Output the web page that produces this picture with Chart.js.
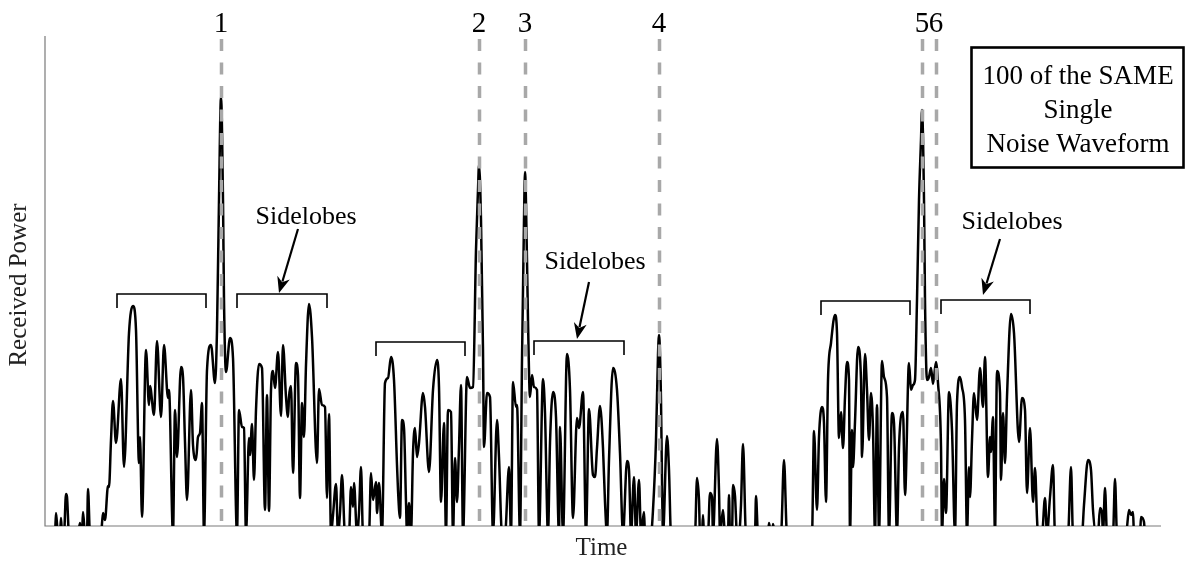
<!DOCTYPE html>
<html>
<head>
<meta charset="utf-8">
<script src="https://cdn.jsdelivr.net/npm/chart.js@4/dist/chart.umd.min.js"></script>
<style>
  html, body { margin: 0; padding: 0; background: #fff; }
  #wrap { width: 1186px; height: 562px; position: relative; }
</style>
</head>
<body>
<div id="wrap"><canvas id="c"></canvas></div>
<script>
// Received power of one noise waveform over time (arbitrary units; values below 0 sit under the axis floor)
const times = [5,10,11,13,15,16,17,19,21,22,24,33,35,36,37,38,40,42,43,45,56,58,60,63,64,66,68,71,76,79,84,88,91,94,95,97,101,104,105,109,112,116,119,123,124,128,130,132,136,138,140,142,146,148,151,153,155,157,159,162,166,170,172,174,176,178,179,181,185,188,192,194,197,199,201,204,205,207,209,211,214,217,220,222,224,226,228,230,233,236,238,241,243,244,246,248,251,253,255,257,259,261,264,267,272,274,277,280,282,284,286,288,291,293,295,297,300,304,306,308,309,312,314,316,318,324,326,328,331,332,334,337,340,343,346,349,352,353,355,357,359,361,362,364,366,368,370,372,374,378,380,384,388,392,394,396,399,401,403,406,408,410,412,414,416,418,422,425,428,431,433,434,436,438,439,442,445,448,452,454,457,460,464,466,468,471,472,475,477,479,480,482,483,485,487,489,492,494,498,500,503,505,508,511,514,515,518,522,525,528,532,534,538,541,544,548,550,552,555,558,560,562,564,568,572,575,578,582,584,586,589,591,594,596,599,600,606,608,611,613,614,616,617,618,622,624,626,650,652,654,655,657,658,659,663,665,667,668,672,674,675,678,680,683,684,685,687,688,690,692,694,696,698,701,710,711,713,723,724,726,727,728,730,736,739,742,767,769,772,774,777,779,781,783,786,790,792,794,796,798,800,802,804,805,807,808,810,813,816,817,820,822,824,826,828,830,832,834,837,839,842,844,847,849,852,854,858,860,864,866,868,870,872,874,876,877,879,880,882,884,886,888,891,893,896,897,899,901,904,907,910,912,915,917,920,922,924,925,927,929,932,935,938,940,943,945,946,948,950,952,955,956,958,960,962,966,969,974,977,980,982,985,988,990,992,993,997,1000,1002,1005,1008,1010,1023,1026,1028,1037,1039,1043,1046,1048,1051,1053,1055,1057,1058,1060,1062,1068,1070,1072,1081,1084,1086,1088,1089,1095,1096,1099,1100,1105];
const power = [-8,-8,13,-8,-8,8,-8,-8,32,29,-8,-8,3,-8,-8,14,-8,-8,37,-8,-8,13,6,40,39,86,125,83,147,59,193,220,196,63,89,9,176,121,140,111,185,109,181,128,136,-8,116,69,159,149,84,26,136,81,66,89,93,123,-8,156,181,143,196,326,429,326,226,154,188,168,-8,116,99,98,-8,88,71,102,46,116,162,158,16,131,15,136,155,138,174,110,181,129,109,129,140,53,163,151,28,123,89,161,222,189,63,137,121,119,28,112,-8,11,42,-8,13,51,-8,-8,39,19,43,-8,13,59,-8,-8,53,26,44,13,43,-8,143,148,169,146,61,36,8,106,98,24,-8,23,-8,73,98,69,83,133,119,54,136,166,139,24,103,-8,116,114,-8,68,24,79,141,-8,149,138,139,276,336,361,306,176,79,133,129,-8,106,69,-8,-8,59,-8,144,119,121,-8,166,306,354,266,206,129,151,139,136,-8,147,113,-8,83,134,109,-8,99,-8,172,136,8,108,98,134,-8,117,51,49,78,120,78,24,-8,66,158,136,73,-8,65,56,-8,49,-8,46,-8,14,-8,-8,16,86,171,191,126,46,-8,90,56,-8,-8,48,26,-8,-8,11,-8,-8,33,29,-8,87,36,-8,16,-8,-8,31,-8,-8,41,30,-8,-8,21,82,-8,-8,30,-8,-8,3,-8,-8,2,-8,-8,66,-8,-8,95,16,89,119,103,24,146,183,211,193,88,114,78,129,164,146,-8,96,59,104,179,146,69,172,136,86,133,96,-8,121,-8,165,149,129,-8,113,103,-8,79,114,31,163,136,141,146,226,326,386,416,326,226,146,149,158,142,164,143,79,-8,47,13,134,96,-8,123,149,139,106,-8,59,29,86,133,106,158,119,169,49,89,74,109,-8,155,133,46,113,63,129,212,193,84,128,116,33,98,24,58,8,-8,-8,28,-8,29,61,-8,-8,59,-8,-8,21,66,56,16,-8,-8,18,13,-8,38,-8,-8,47,-8,-8,16,11,14,-8,-8,9,4,-8,-8];

// Main-lobe reference times and their labels
const peakTimes = [176, 434, 480, 614, 877, 891];
const peakLabels = ['1', '2', '3', '4', '5', '6'];

// Sidelobe brackets: start time, end time, level
const bracketStart = [72, 192, 331, 489, 776, 896];
const bracketEnd = [161, 282, 420, 579, 865, 985];
const bracketLevel = [232, 232, 184, 185, 225, 226];

// "Sidelobes" callouts: text anchor and arrow tail/tip (time, level)
const calloutText = 'Sidelobes';
const calloutTime = [261, 550, 967];
const calloutLevel = [309, 264, 304];
const arrowFromTime = [253, 544, 955];
const arrowFromLevel = [297, 244, 287];
const arrowToTime = [234, 532, 938];
const arrowToLevel = [233, 187, 231];

const xTitle = 'Time';
const yTitle = 'Received Power';
const boxLines = ['100 of the SAME', 'Single', 'Noise Waveform'];

const SERIF = "'Liberation Serif', 'Times New Roman', Times, serif";

const points = times.map((t, i) => ({ x: t, y: power[i] }));

const decor = {
  id: 'decor',
  beforeDatasetsDraw(chart) {
    const { ctx, chartArea: a } = chart;
    ctx.save();
    ctx.strokeStyle = '#7a7a7a';
    ctx.lineWidth = 1.2;
    ctx.beginPath();
    ctx.moveTo(a.left, a.top);
    ctx.lineTo(a.left, a.bottom);
    ctx.lineTo(a.right + 3, a.bottom);
    ctx.stroke();
    ctx.restore();
  },
  afterDatasetsDraw(chart) {
    const { ctx, chartArea: a, scales: { x, y } } = chart;
    ctx.save();

    // dashed markers at each main lobe
    ctx.strokeStyle = '#a8a8a8';
    ctx.lineWidth = 3.5;
    ctx.setLineDash([12, 11.5]);
    peakTimes.forEach(t => {
      const px = Math.round(x.getPixelForValue(t)) + 0.5;
      ctx.beginPath();
      ctx.moveTo(px, a.top + 3);
      ctx.lineTo(px, a.bottom);
      ctx.stroke();
    });
    ctx.setLineDash([]);

    // marker numbers
    ctx.fillStyle = '#000';
    ctx.font = '29px ' + SERIF;
    ctx.textAlign = 'center';
    ctx.textBaseline = 'alphabetic';
    peakTimes.forEach((t, i) => {
      ctx.fillText(peakLabels[i], x.getPixelForValue(t), a.top - 4);
    });

    // sidelobe brackets
    ctx.strokeStyle = '#000';
    ctx.lineWidth = 1.6;
    bracketStart.forEach((s, i) => {
      const x0 = x.getPixelForValue(s), x1 = x.getPixelForValue(bracketEnd[i]);
      const yy = y.getPixelForValue(bracketLevel[i]);
      ctx.beginPath();
      ctx.moveTo(x0, yy + 14);
      ctx.lineTo(x0, yy);
      ctx.lineTo(x1, yy);
      ctx.lineTo(x1, yy + 14);
      ctx.stroke();
    });

    // callout text and arrows
    ctx.font = '26px ' + SERIF;
    ctx.textAlign = 'center';
    ctx.textBaseline = 'middle';
    calloutTime.forEach((t, i) => {
      ctx.fillText(calloutText, x.getPixelForValue(t), y.getPixelForValue(calloutLevel[i]));
      const fx = x.getPixelForValue(arrowFromTime[i]), fy = y.getPixelForValue(arrowFromLevel[i]);
      const tx = x.getPixelForValue(arrowToTime[i]), ty = y.getPixelForValue(arrowToLevel[i]);
      const ang = Math.atan2(ty - fy, tx - fx);
      const hl = 16, hw = 6.5;
      const bx = tx - hl * Math.cos(ang), by = ty - hl * Math.sin(ang);
      ctx.lineWidth = 2.2;
      ctx.beginPath();
      ctx.moveTo(fx, fy);
      ctx.lineTo(bx + 4 * Math.cos(ang), by + 4 * Math.sin(ang));
      ctx.stroke();
      ctx.beginPath();
      ctx.moveTo(tx, ty);
      ctx.lineTo(bx + hw * Math.sin(ang), by - hw * Math.cos(ang));
      ctx.lineTo(bx + 0.3 * hl * Math.cos(ang), by + 0.3 * hl * Math.sin(ang));
      ctx.lineTo(bx - hw * Math.sin(ang), by + hw * Math.cos(ang));
      ctx.closePath();
      ctx.fill();
    });

    // info box
    ctx.lineWidth = 2.6;
    ctx.strokeStyle = '#000';
    ctx.strokeRect(971.5, 47.5, 212, 120);
    ctx.font = '27px ' + SERIF;
    ctx.textBaseline = 'alphabetic';
    boxLines.forEach((s, i) => ctx.fillText(s, 1078, 84 + i * 34));

    // axis titles
    ctx.font = '25px ' + SERIF;
    ctx.fillStyle = '#222';
    ctx.textBaseline = 'middle';
    ctx.fillText(xTitle, (a.left + a.right) / 2, 548);
    ctx.translate(19, (a.top + a.bottom) / 2 + 4);
    ctx.rotate(-Math.PI / 2);
    ctx.fillText(yTitle, 0, 0);
    ctx.restore();
  }
};

new Chart(document.getElementById('c'), {
  type: 'line',
  data: {
    datasets: [{
      data: points,
      borderColor: '#000',
      borderWidth: 2.5,
      pointRadius: 0,
      cubicInterpolationMode: 'monotone',
      clip: 0,
      fill: false
    }]
  },
  options: {
    responsive: true,
    maintainAspectRatio: false,
    devicePixelRatio: 1,
    animation: false,
    layout: { padding: { left: 45, right: 28, top: 36, bottom: 36 } },
    plugins: { legend: { display: false }, tooltip: { enabled: false } },
    scales: {
      x: { type: 'linear', min: 0, max: 1113, display: false },
      y: { type: 'linear', min: 0, max: 490, display: false }
    }
  },
  plugins: [decor]
});
</script>
</body>
</html>
